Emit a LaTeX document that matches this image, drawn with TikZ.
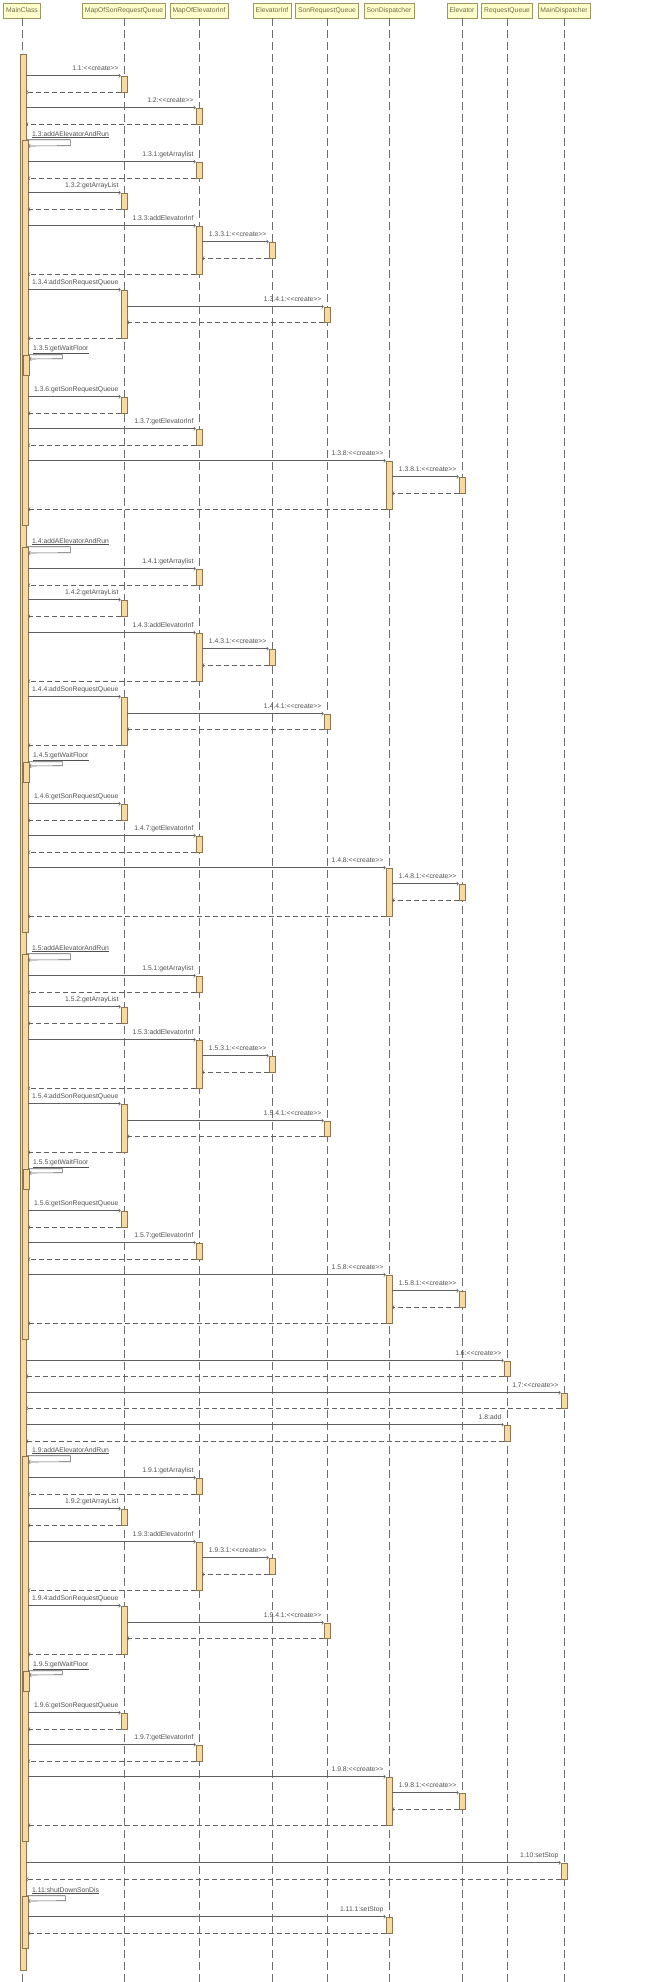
\documentclass[tikz,border=0pt]{standalone}
\usepackage{fontspec}
\newfontfamily\seqfont{Liberation Sans}
\usepackage{tikz}

\definecolor{headfill}{HTML}{FFFFCC}
\definecolor{headline}{HTML}{9C9660}
\definecolor{headtext}{HTML}{6E6A48}
\definecolor{actfill}{HTML}{FAD9A0}
\definecolor{actline}{HTML}{8C7650}
\definecolor{lifegray}{HTML}{707070}
\definecolor{msggray}{HTML}{606060}
\definecolor{lblgray}{HTML}{505050}

% activation bar: name, x, top, bottom
\newcommand{\actbar}[4]{\node[actbox,minimum height={(#4)-(#3)}] (#1) at (#2,{((#3)+(#4))/2}) {};}

\begin{document}
\begin{tikzpicture}[x=1pt,y=-1pt,
  head/.style={draw=headline,fill=headfill,text=headtext,font=\seqfont\fontsize{6.8}{8}\selectfont,inner xsep=2.5pt,minimum height=15pt},
  life/.style={draw=lifegray,line width=0.8pt,dash pattern=on 8pt off 4pt},
  actbox/.style={draw=actline,fill=actfill,line width=0.6pt,minimum width=6pt,inner sep=0pt},
  msg/.style={->,draw=msggray,line width=0.6pt},
  ret/.style={->,draw=msggray,line width=0.6pt,dash pattern=on 5pt off 3pt},
  lbl/.style={font=\seqfont\fontsize{6.8}{8}\selectfont,text=lblgray,inner sep=0pt},
  say/.style={lbl,pos=1,anchor=base east,xshift=-2pt,yshift=5pt}]
\useasboundingbox (0,0) rectangle (650,1982);
\node[head] (mc) at (22,10.5) {MainClass};
\node[head] (msrq) at (124,10.5) {MapOfSonRequestQueue};
\node[head] (meli) at (199,10.5) {MapOfElevatorInf};
\node[head] (ei) at (272,10.5) {ElevatorInf};
\node[head] (srq) at (327,10.5) {SonRequestQueue};
\node[head] (sd) at (389,10.5) {SonDispatcher};
\node[head] (el) at (462,10.5) {Elevator};
\node[head] (rq) at (507,10.5) {RequestQueue};
\node[head] (md) at (564,10.5) {MainDispatcher};
\foreach \h in {mc,msrq,meli,ei,srq,sd,el,rq,md}
  \draw[life] (\h.south) -- (\h.south |- 0,1982);

\actbar{mact}{23}{54}{1970}
\actbar{m1}{124}{76}{92}
\draw[msg] (mact.east |- m1.north) -- (m1.north west) node[say] (l1) {1.1:<<create>>};
\draw[ret] (m1.south west) -- (mact.east |- m1.south);
\actbar{m2}{199}{108}{124}
\draw[msg] (mact.east |- m2.north) -- (m2.north west) node[say] (l2) {1.2:<<create>>};
\draw[ret] (m2.south west) -- (mact.east |- m2.south);

% the four addAElevatorAndRun calls
\foreach \b/\o in {3/0,4/407,5/814,9/1316}{
  \actbar{n\b}{25}{140+\o}{525+\o}
  \node[lbl,anchor=base west] (l\b) at (32,{136+\o}) {\underline{1.\b:addAElevatorAndRun}};
  \draw[msg] (mact.east |- n\b.north) -- ++(44,0) -- ++(0,6) -- (n\b.east |- 0,{146+\o});
  \actbar{a\b1}{199}{162+\o}{178+\o}
  \draw[msg] (n\b.east |- a\b1.north) -- (a\b1.north west) node[say] (l\b1) {1.\b.1:getArraylist};
  \draw[ret] (a\b1.south west) -- (n\b.east |- a\b1.south);
  \actbar{a\b2}{124}{193+\o}{209+\o}
  \draw[msg] (n\b.east |- a\b2.north) -- (a\b2.north west) node[say] (l\b2) {1.\b.2:getArrayList};
  \draw[ret] (a\b2.south west) -- (n\b.east |- a\b2.south);
  \actbar{a\b3}{199}{226+\o}{274+\o}
  \draw[msg] (n\b.east |- a\b3.north) -- (a\b3.north west) node[say] (l\b3) {1.\b.3:addElevatorInf};
  \actbar{a\b31}{272}{242+\o}{258+\o}
  \draw[msg] (a\b3.east |- a\b31.north) -- (a\b31.north west) node[say] (l\b31) {1.\b.3.1:<<create>>};
  \draw[ret] (a\b31.south west) -- (a\b3.east |- a\b31.south);
  \draw[ret] (a\b3.south west) -- (n\b.east |- a\b3.south);
  \actbar{a\b4}{124}{290+\o}{338+\o}
  \draw[msg] (n\b.east |- a\b4.north) -- (a\b4.north west) node[say] (l\b4) {1.\b.4:addSonRequestQueue};
  \actbar{a\b41}{327}{307+\o}{322+\o}
  \draw[msg] (a\b4.east |- a\b41.north) -- (a\b41.north west) node[say] (l\b41) {1.\b.4.1:<<create>>};
  \draw[ret] (a\b41.south west) -- (a\b4.east |- a\b41.south);
  \draw[ret] (a\b4.south west) -- (n\b.east |- a\b4.south);
  \actbar{w\b}{26}{355+\o}{375+\o}
  \node[lbl,anchor=base west] (l\b5) at (33,{350+\o}) {\underline{1.\b.5:getWaitFloor}};
  \draw[msg] (n\b.east |- w\b.north) -- ++(34,0) -- ++(0,4) -- (w\b.east |- 0,{359+\o});
  \actbar{a\b6}{124}{397+\o}{413+\o}
  \draw[msg] (n\b.east |- a\b6.north) -- (a\b6.north west) node[say] (l\b6) {1.\b.6:getSonRequestQueue};
  \draw[ret] (a\b6.south west) -- (n\b.east |- a\b6.south);
  \actbar{a\b7}{199}{429+\o}{445+\o}
  \draw[msg] (n\b.east |- a\b7.north) -- (a\b7.north west) node[say] (l\b7) {1.\b.7:getElevatorInf};
  \draw[ret] (a\b7.south west) -- (n\b.east |- a\b7.south);
  \actbar{a\b8}{389}{461+\o}{509+\o}
  \draw[msg] (n\b.east |- a\b8.north) -- (a\b8.north west) node[say] (l\b8) {1.\b.8:<<create>>};
  \actbar{a\b81}{462}{477+\o}{493+\o}
  \draw[msg] (a\b8.east |- a\b81.north) -- (a\b81.north west) node[say] (l\b81) {1.\b.8.1:<<create>>};
  \draw[ret] (a\b81.south west) -- (a\b8.east |- a\b81.south);
  \draw[ret] (a\b8.south west) -- (n\b.east |- a\b8.south);
}

\actbar{m6}{507}{1361}{1376}
\draw[msg] (mact.east |- m6.north) -- (m6.north west) node[say] (l6) {1.6:<<create>>};
\draw[ret] (m6.south west) -- (mact.east |- m6.south);
\actbar{m7}{564}{1393}{1408}
\draw[msg] (mact.east |- m7.north) -- (m7.north west) node[say] (l7) {1.7:<<create>>};
\draw[ret] (m7.south west) -- (mact.east |- m7.south);
\actbar{m8}{507}{1425}{1441}
\draw[msg] (mact.east |- m8.north) -- (m8.north west) node[say] (l8) {1.8:add};
\draw[ret] (m8.south west) -- (mact.east |- m8.south);
\actbar{m10}{564}{1863}{1879}
\draw[msg] (mact.east |- m10.north) -- (m10.north west) node[say] (l10) {1.10:setStop};
\draw[ret] (m10.south west) -- (mact.east |- m10.south);
\actbar{m11}{25}{1896}{1948}
\node[lbl,anchor=base west] (l11) at (32,1892) {\underline{1.11:shutDownSonDis}};
\draw[msg] (mact.east |- m11.north) -- ++(39,0) -- ++(0,5) -- (m11.east |- 0,1901);
\actbar{m111}{389}{1917}{1933}
\draw[msg] (m11.east |- m111.north) -- (m111.north west) node[say] (l111) {1.11.1:setStop};
\draw[ret] (m111.south west) -- (m11.east |- m111.south);
\end{tikzpicture}
\end{document}
